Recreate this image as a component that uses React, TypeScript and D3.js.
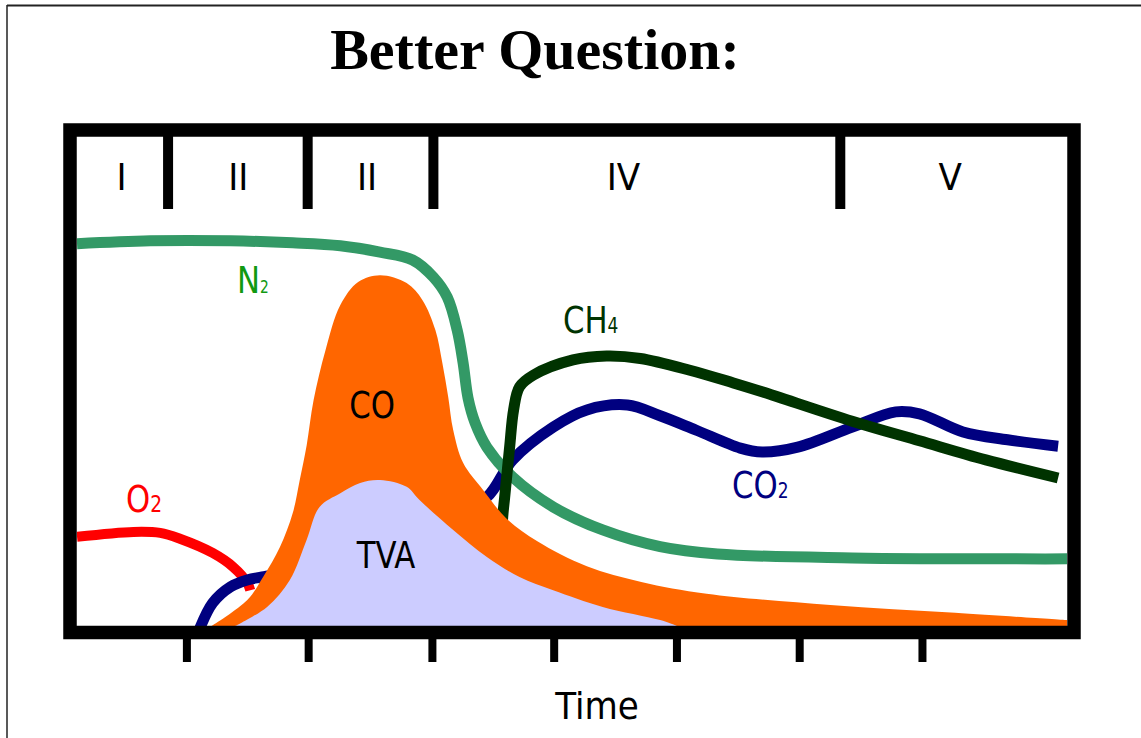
import React, { useEffect, useRef } from 'react';
import * as d3 from 'd3';

const W = 1141;
const H = 738;

// Time axis is 0–100 (arbitrary), concentration 0–100 (arbitrary %)
const N2: [number, number][] = [
  [0, 78.0], [7.4, 78.6], [15.5, 78.6], [21.8, 78.2], [26.6, 77.6], [30.6, 76.3],
  [33.9, 74.7], [36.0, 71.2], [37.4, 67.1], [38.4, 60.4], [39.0, 53.7], [39.5, 46.5],
  [40.2, 41.5], [41.4, 36.5], [44.0, 30.4], [48.1, 24.3], [53.1, 19.6], [58.9, 16.2],
  [64.7, 14.7], [78.3, 13.9], [100, 13.7],
];
const O2: [number, number][] = [
  [0, 18.2], [5.7, 19.2], [8.4, 19.0], [10.4, 17.8], [13.7, 14.9], [15.8, 12.0], [17.2, 8.8], [17.5, 7.3],
];
const CO2: [number, number][] = [
  [12.3, -1], [13.7, 4.7], [15.5, 8.0], [17.2, 9.4], [18.7, 10.0], [22.5, 11.4], [30.6, 16.5],
  [37.7, 22.7], [41.4, 26.3], [44.0, 33.9], [48.1, 40.6], [51.5, 44.1], [55.6, 45.1],
  [58.9, 42.9], [62.5, 40.0], [67.0, 36.3], [69.2, 35.5], [72.8, 36.5],
  [78.3, 40.6], [82.7, 43.7], [85.1, 43.3], [89.5, 39.6], [94.0, 38.0], [99.1, 36.7],
];
const CH4: [number, number][] = [
  [42.8, 13.5], [43.0, 22.2], [43.2, 26.3], [43.7, 36.5], [44.1, 44.1], [44.7, 48.8],
  [46.1, 51.2], [50.1, 54.3], [53.5, 55.1], [56.9, 54.6], [61.9, 52.2], [66.3, 49.6],
  [69.2, 47.8], [78.3, 41.8], [85.1, 37.8], [91.8, 33.9], [99.1, 30.2],
];
const CO: [number, number][] = [
  [13.6, 0], [17.2, 5.3], [18.8, 10.0], [20.5, 16.1], [21.8, 23.1], [22.5, 29.8],
  [23.2, 36.9], [23.9, 46.1], [25.1, 56.3], [26.6, 65.5], [28.4, 70.2], [30.6, 71.6],
  [33.3, 70.0], [34.9, 66.5], [36.2, 60.4], [36.9, 53.7], [37.5, 46.7], [38.0, 40.0],
  [39.0, 33.3], [41.0, 27.8], [43.4, 21.9], [46.5, 17.3], [51.5, 12.2], [57.0, 9.0],
  [63.6, 6.6], [76.1, 4.3], [88.7, 2.7], [100, 1.2],
];
const TVA: [number, number][] = [
  [16.0, 0], [19.2, 3.9], [21.5, 9.4], [23.2, 17.6], [24.5, 24.3], [26.6, 27.1],
  [28.6, 29.2], [30.6, 29.8], [33.3, 28.4], [34.6, 25.7], [38.0, 19.6], [41.4, 14.1],
  [44.7, 10.0], [48.1, 7.3], [53.1, 3.9], [58.9, 1.2], [60.6, 0],
];

const phaseDividers = [9.2, 23.3, 36.0, 77.1];
const phaseLabels = ['I', 'II', 'II', 'IV', 'V'];
const phaseLabelPos = [4.5, 16.3, 29.3, 55.2, 88.2];
const timeTicks = [11.1, 23.4, 35.9, 48.2, 60.6, 73.0, 85.4];

const title = 'Better Question:';
const xLabel = 'Time';

const FONT = "'Liberation Sans Narrow', 'Arial Narrow', 'DejaVu Sans Condensed', sans-serif";

export default function App() {
  const ref = useRef<SVGSVGElement>(null);

  useEffect(() => {
    const svg = d3.select(ref.current);
    svg.selectAll('*').remove();

    const x = d3.scaleLinear().domain([0, 100]).range([77, 1067]);
    const y = d3.scaleLinear().domain([0, 100]).range([626, 136]);

    svg.append('rect').attr('width', W).attr('height', H).attr('fill', '#fff');

    const defs = svg.append('defs');
    defs.append('clipPath').attr('id', 'plotclip')
      .append('rect').attr('x', 77).attr('y', 136).attr('width', 990).attr('height', 490);

    const g = svg.append('g').attr('clip-path', 'url(#plotclip)');

    const curve = d3.curveCatmullRom.alpha(0.5);
    const line = d3.line<[number, number]>()
      .x(d => x(d[0])).y(d => y(d[1])).curve(curve);
    const area = d3.area<[number, number]>()
      .x(d => x(d[0])).y0(y(-2)).y1(d => y(d[1])).curve(curve);

    g.append('path').attr('d', line(O2)!).attr('fill', 'none').attr('stroke', '#ff0000').attr('stroke-width', 10);
    g.append('path').attr('d', line(CO2)!).attr('fill', 'none').attr('stroke', '#000080').attr('stroke-width', 11);
    g.append('path').attr('d', line(N2)!).attr('fill', 'none').attr('stroke', '#339966').attr('stroke-width', 11);
    g.append('path').attr('d', line(CH4)!).attr('fill', 'none').attr('stroke', '#003300').attr('stroke-width', 11);
    g.append('path').attr('d', area(CO)!).attr('fill', '#ff6600');
    g.append('path').attr('d', area(TVA)!).attr('fill', '#ccccff');

    // frame
    svg.append('rect').attr('x', 70).attr('y', 130).attr('width', 1004).attr('height', 502.5)
      .attr('fill', 'none').attr('stroke', '#000').attr('stroke-width', 13.5);

    // phase dividers
    svg.selectAll('.div').data(phaseDividers).enter().append('rect')
      .attr('x', d => x(d) - 5).attr('y', 130).attr('width', 10).attr('height', 79).attr('fill', '#000');

    svg.selectAll('.pl').data(phaseLabels).enter().append('text')
      .attr('x', (_, i) => x(phaseLabelPos[i])).attr('y', 190)
      .attr('text-anchor', 'middle').attr('font-family', FONT).attr('font-size', 38)
      .attr('fill', '#000').text(d => d);

    // time ticks
    svg.selectAll('.tk').data(timeTicks).enter().append('rect')
      .attr('x', d => x(d) - 4).attr('y', 635).attr('width', 8).attr('height', 27).attr('fill', '#000');

    svg.append('text').attr('x', 597).attr('y', 719).attr('text-anchor', 'middle')
      .attr('font-family', FONT).attr('font-size', 38).attr('fill', '#000').text(xLabel);

    // series labels
    const lab = (tx: number, ty: number, main: string, sub: string, subSize: number,
      color: string, anchor = 'start', sx = 0.9) => {
      const t = svg.append('text')
        .attr('transform', `translate(${tx},${ty}) scale(${sx},1)`)
        .attr('text-anchor', anchor)
        .attr('font-family', FONT).attr('font-size', 38).attr('fill', color);
      t.append('tspan').text(main);
      if (sub) t.append('tspan').attr('font-size', subSize).text(sub);
    };
    lab(237, 293, 'N', '2', 17, '#119911');
    lab(126, 512, 'O', '2', 23, '#ff0000');
    lab(563, 333, 'CH', '4', 21, '#003300');
    lab(732, 498, 'CO', '2', 21, '#000080');
    lab(372, 418, 'CO', '', 0, '#000', 'middle');
    lab(386, 568, 'TVA', '', 0, '#000', 'middle');

    // title
    svg.append('text').attr('x', 535).attr('y', 69).attr('text-anchor', 'middle')
      .attr('font-family', "'Liberation Serif', 'Times New Roman', serif")
      .attr('font-weight', 'bold').attr('font-size', 58).attr('fill', '#000').text(title);

    // outer border
    svg.append('line').attr('x1', 7).attr('x2', W).attr('y1', 5.5).attr('y2', 5.5)
      .attr('stroke', '#222').attr('stroke-width', 2);
    svg.append('line').attr('x1', 7).attr('x2', 7).attr('y1', 5).attr('y2', H)
      .attr('stroke', '#222').attr('stroke-width', 1.5);
  }, []);

  return (
    <svg ref={ref} width={W} height={H}
      style={{ position: 'absolute', left: 0, top: 0, display: 'block' }} />
  );
}
